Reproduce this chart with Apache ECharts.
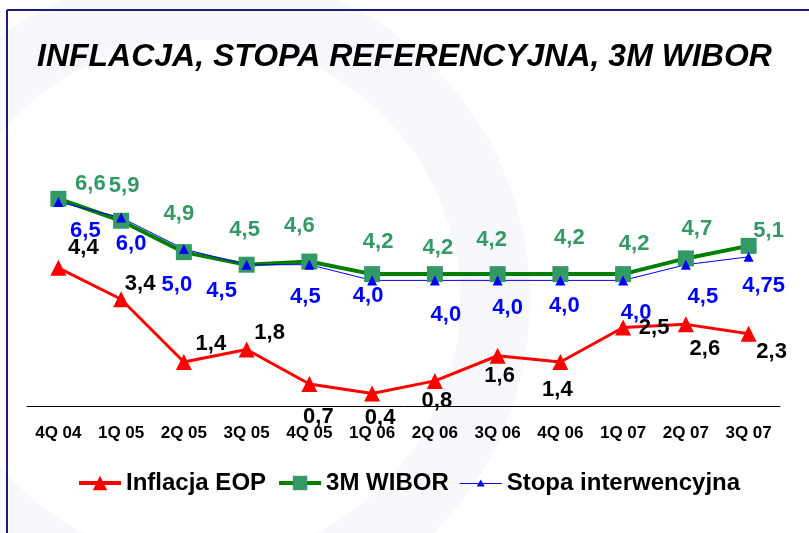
<!DOCTYPE html>
<html>
<head>
<meta charset="utf-8">
<script src="https://cdn.jsdelivr.net/npm/echarts@6/dist/echarts.min.js"></script>
<style>
  html, body { margin: 0; padding: 0; background: #fff; }
  #chart { width: 809px; height: 533px; }
</style>
</head>
<body>
<div id="chart"></div>
<script>
const quarters = ['4Q 04', '1Q 05', '2Q 05', '3Q 05', '4Q 05', '1Q 06', '2Q 06', '3Q 06', '4Q 06', '1Q 07', '2Q 07', '3Q 07'];
const inflation = [4.4, 3.4, 1.4, 1.8, 0.7, 0.4, 0.8, 1.6, 1.4, 2.5, 2.6, 2.3];
const wibor3m = [6.6, 5.9, 4.9, 4.5, 4.6, 4.2, 4.2, 4.2, 4.2, 4.2, 4.7, 5.1];
const refRate = [6.5, 6.0, 5.0, 4.5, 4.5, 4.0, 4.0, 4.0, 4.0, 4.0, 4.5, 4.75];

// label offsets from the marker, px
const inflOffsets = [[25, -20], [19, -15], [27, -18], [23, -17], [9, 33], [8, 24], [2, 20], [2, 20], [-3, 28], [31, 0], [19, 25], [23, 18]];
const wiborOffsets = [[32, -15], [3, -35], [-5, -38], [-2, -35], [-10, -36], [6, -32], [3, -26], [-6, -34], [9, -36], [11, -30], [11, -29], [20, -15]];
const refOffsets = [[27, 29], [10, 26], [-7, 36], [-25, 26], [-4, 32], [-4, 16], [11, 35], [10, 28], [4, 26], [13, 33], [17, 32], [15, 29]];

function fmt(v) {
  const s = Number.isInteger(v * 10) ? v.toFixed(1) : String(v);
  return s.replace('.', ',');
}

function withLabels(values, offsets) {
  return values.map((v, i) => ({ value: v, label: { offset: offsets[i] } }));
}

const FONT = 'Liberation Sans, Arial, sans-serif';
const labelFont = { fontFamily: FONT, fontWeight: 'bold', fontSize: 22 };

const chart = echarts.init(document.getElementById('chart'));
chart.setOption({
  backgroundColor: '#fff',
  animation: false,
  graphic: [
    // faint watermark swoosh
    { type: 'ring', shape: { cx: 200, cy: 300, r: 330, r0: 260 }, style: { fill: '#f7f8fc' }, silent: true },
    { type: 'line', shape: { x1: 7, y1: 10, x2: 809, y2: 10 }, style: { stroke: '#1c1c7a', lineWidth: 2 } },
    { type: 'line', shape: { x1: 7, y1: 10, x2: 7, y2: 533 }, style: { stroke: '#1c1c7a', lineWidth: 2 } },
    {
      type: 'text', x: 37, y: 41,
      style: {
        text: 'INFLACJA, STOPA REFERENCYJNA, 3M WIBOR',
        fontFamily: FONT, fontSize: 32, fontWeight: 'bold', fontStyle: 'italic', fill: '#000'
      }
    }
  ],
  grid: { left: 27, right: 29, top: 92, bottom: 127 },
  xAxis: {
    type: 'category',
    data: quarters,
    axisLine: { lineStyle: { color: '#000', width: 1 } },
    axisTick: { length: 6, lineStyle: { color: '#000' } },
    axisLabel: { color: '#000', fontFamily: FONT, fontWeight: 'bold', fontSize: 17, margin: 19, interval: 0 }
  },
  yAxis: { type: 'value', min: 0, max: 10, show: false, splitLine: { show: false } },
  legend: {
    top: 471, left: 77, padding: 0,
    itemGap: 11, itemWidth: 42, itemHeight: 18,
    textStyle: { color: '#000', fontFamily: FONT, fontWeight: 'bold', fontSize: 24 },
    data: [
      { name: 'Inflacja EOP', lineStyle: { width: 4 } },
      { name: '3M WIBOR', lineStyle: { width: 4 } },
      { name: 'Stopa interwencyjna', icon: 'path://M0,8.5H42V9.5H0Z M21,5L25,12L17,12Z' }
    ]
  },
  series: [
    {
      name: 'Inflacja EOP', type: 'line', data: withLabels(inflation, inflOffsets),
      symbol: 'triangle', symbolSize: 16,
      lineStyle: { color: '#ff0000', width: 3 }, itemStyle: { color: '#ff0000' },
      label: Object.assign({ show: true, position: 'inside', color: '#000', formatter: p => fmt(p.value) }, labelFont)
    },
    {
      name: '3M WIBOR', type: 'line', data: withLabels(wibor3m, wiborOffsets),
      symbol: 'rect', symbolSize: 16,
      lineStyle: { color: '#008000', width: 4 }, itemStyle: { color: '#339966' },
      label: Object.assign({ show: true, position: 'inside', color: '#339966', formatter: p => fmt(p.value) }, labelFont)
    },
    {
      name: 'Stopa interwencyjna', type: 'line', data: withLabels(refRate, refOffsets),
      symbol: 'triangle', symbolSize: 10,
      lineStyle: { color: '#0000ff', width: 1 }, itemStyle: { color: '#0000ff' },
      label: Object.assign({ show: true, position: 'inside', color: '#0000ff', formatter: p => fmt(p.value) }, labelFont)
    }
  ]
});
</script>
</body>
</html>
